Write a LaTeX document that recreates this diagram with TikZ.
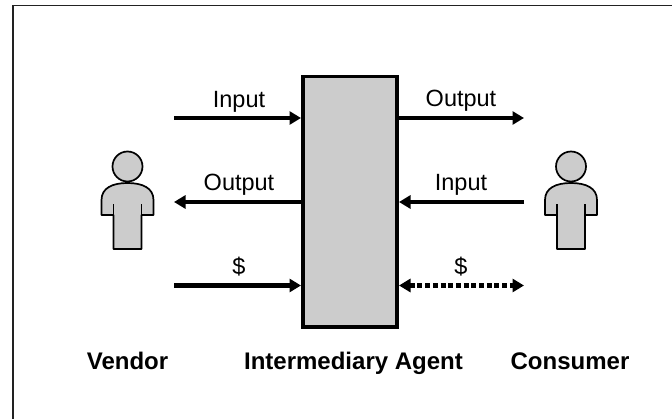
\documentclass[tikz,border=0pt]{standalone}
\usepackage{fontspec}
\setmainfont{Liberation Sans}
\usetikzlibrary{arrows.meta}
\tikzset{
  x=1pt,y=-1pt,
  agentbox/.style={draw=black,fill=boxgrey,line width=3.7pt,minimum width=94.3pt,minimum height=250.8pt,inner sep=0pt},
  flow/.style={draw=black,line width=4.2pt,-{Triangle[length=11.5pt,width=13pt]}},
  dashflow/.style={draw=black,line width=4.2pt,dash pattern=on 5pt off 2.7pt,{Triangle[length=11.5pt,width=13pt]}-{Triangle[length=11.5pt,width=13pt]}},
  lbl/.style={font=\fontsize{23.5}{26}\selectfont,inner sep=0pt,anchor=base},
  role/.style={font=\fontsize{24}{27}\selectfont\bfseries,inner sep=0pt,anchor=base},
  personline/.style={draw=black,line width=1.7pt,fill=boxgrey,line join=round},
  person/.pic={
    \draw[personline] (0,-42.5) circle (15);
    \draw[personline] (-14,40) -- (-14,6) -- (-26,6) -- (-26,-9)
      .. controls (-26,-21) and (-15,-26) .. (0,-26)
      .. controls (15,-26) and (26,-21) .. (26,-9)
      -- (26,6) -- (14,6) -- (14,40) -- cycle;
    \draw[personline] (-14,6) -- (-14,-5) (14,6) -- (14,-5);
  }
}
\definecolor{boxgrey}{HTML}{CCCCCC}
\definecolor{framegrey}{HTML}{222222}
\begin{document}
\begin{tikzpicture}
\useasboundingbox (0,0) rectangle (672,419);
\draw[framegrey,line width=1.6pt] (13,419) -- (13,5.5) -- (672,5.5);
\node[agentbox] (agent) at (350,201.8) {};
\coordinate (a1) at (174,118);
\coordinate (a2) at (174,202);
\coordinate (a3) at (174,285.5);
\coordinate (b1) at (524,118);
\coordinate (b2) at (524,202);
\coordinate (b3) at (524,285.5);
\draw[flow] (a1) -- (agent.west |- a1);
\draw[flow] (agent.west |- a2) -- (a2);
\draw[flow] (a3) -- (agent.west |- a3);
\draw[flow] (agent.east |- b1) -- (b1);
\draw[flow] (b2) -- (agent.east |- b2);
\draw[dashflow] (agent.east |- b3) -- (b3);
\node[lbl] (l1) at (239,108) {Input};
\node[lbl] (l2) at (239,191) {Output};
\node[lbl] (l3) at (239,274.5) {\$};
\node[lbl] (r1) at (461,107) {Output};
\node[lbl] (r2) at (461,191) {Input};
\node[lbl] (r3) at (461,274.5) {\$};
\pic at (127.5,209) {person};
\pic at (571,209) {person};
\node[role] (vendor) at (127.5,369.5) {Vendor};
\node[role] (middle) at (353.5,369.5) {Intermediary Agent};
\node[role] (consumer) at (570,369.5) {Consumer};
\end{tikzpicture}
\end{document}
